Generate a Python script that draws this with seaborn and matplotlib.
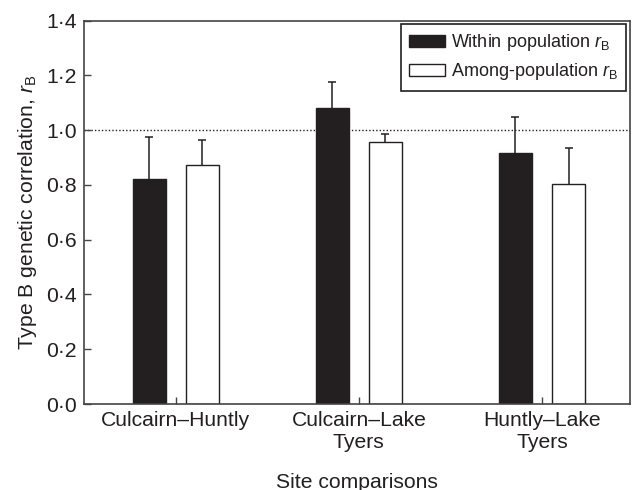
import pandas as pd
import seaborn as sns
import matplotlib.pyplot as plt
from matplotlib.ticker import FuncFormatter

comparisons = ["Culcairn–Huntly", "Culcairn–Lake\nTyers", "Huntly–Lake\nTyers"]
series_names = ["Within population $r_\\mathrm{B}$", "Among-population $r_\\mathrm{B}$"]
within_vals = [0.822, 1.081, 0.916]
within_err = [0.153, 0.094, 0.133]
among_vals = [0.873, 0.956, 0.802]
among_err = [0.090, 0.031, 0.134]
y_ticks = [0.0, 0.2, 0.4, 0.6, 0.8, 1.0, 1.2, 1.4]

sns.set_style("ticks")
plt.rcParams["font.family"] = ["Liberation Sans", "DejaVu Sans"]
plt.rcParams["mathtext.fontset"] = "custom"
plt.rcParams["mathtext.rm"] = "Liberation Sans"
plt.rcParams["mathtext.it"] = "Liberation Sans:italic"

ink = "#231f20"
fs = 15.2

df = pd.DataFrame({
    "comparison": comparisons * 2,
    "series": [series_names[0]] * 3 + [series_names[1]] * 3,
    "value": within_vals + among_vals,
    "err": within_err + among_err,
})

fig = plt.figure(figsize=(6.34, 4.90), dpi=100)
ax = fig.add_axes([0.1325, 0.1755, 0.8612, 0.7825])

sns.barplot(data=df, x="comparison", y="value", hue="series", order=comparisons,
            hue_order=series_names, palette={series_names[0]: ink, series_names[1]: "white"},
            edgecolor=ink, linewidth=1.0, width=0.58, gap=0.38, errorbar=None,
            saturation=1, ax=ax, zorder=2)

# one-sided error bars, upper cap only
for cont, name in zip(ax.containers, series_names):
    sub = df[df["series"] == name].set_index("comparison").loc[comparisons]
    xs = [b.get_x() + b.get_width() / 2 for b in cont]
    eb = ax.errorbar(xs, sub["value"], yerr=[[0] * len(xs), sub["err"]], fmt="none",
                     ecolor=ink, elinewidth=1.1, capsize=3.2, capthick=1.1, zorder=1.5)
    eb[1][0].set_visible(False)

ax.axhline(1.0, ls=(0, (1, 1.5)), color=ink, lw=1.0, zorder=0.5)

ax.set_ylim(0, 1.4)
ax.set_xlim(-0.50, 2.48)
ax.set_yticks(y_ticks)
ax.yaxis.set_major_formatter(FuncFormatter(lambda v, p: f"{v:.1f}".replace(".", "·")))

for s in ax.spines.values():
    s.set_visible(True)
    s.set_color("#444444")
    s.set_linewidth(1.2)
ax.tick_params(direction="in", length=5, width=1, colors="#444444", labelcolor=ink,
               labelsize=fs, pad=5)

ax.set_ylabel("Type B genetic correlation, $r_\\mathrm{B}$", fontsize=fs, color=ink, labelpad=5)
ax.set_xlabel("Site comparisons", fontsize=fs, color=ink)
ax.xaxis.set_label_coords(0.5, -0.18)

leg = ax.legend(loc="upper right", fontsize=13, frameon=True, fancybox=False,
                edgecolor=ink, framealpha=1, borderaxespad=0.2, handlelength=2.0,
                handletextpad=0.35, borderpad=0.45, labelspacing=0.45)
leg.get_frame().set_linewidth(1.2)
for t in leg.get_texts():
    t.set_color(ink)

fig.savefig("out.png", dpi=100)
